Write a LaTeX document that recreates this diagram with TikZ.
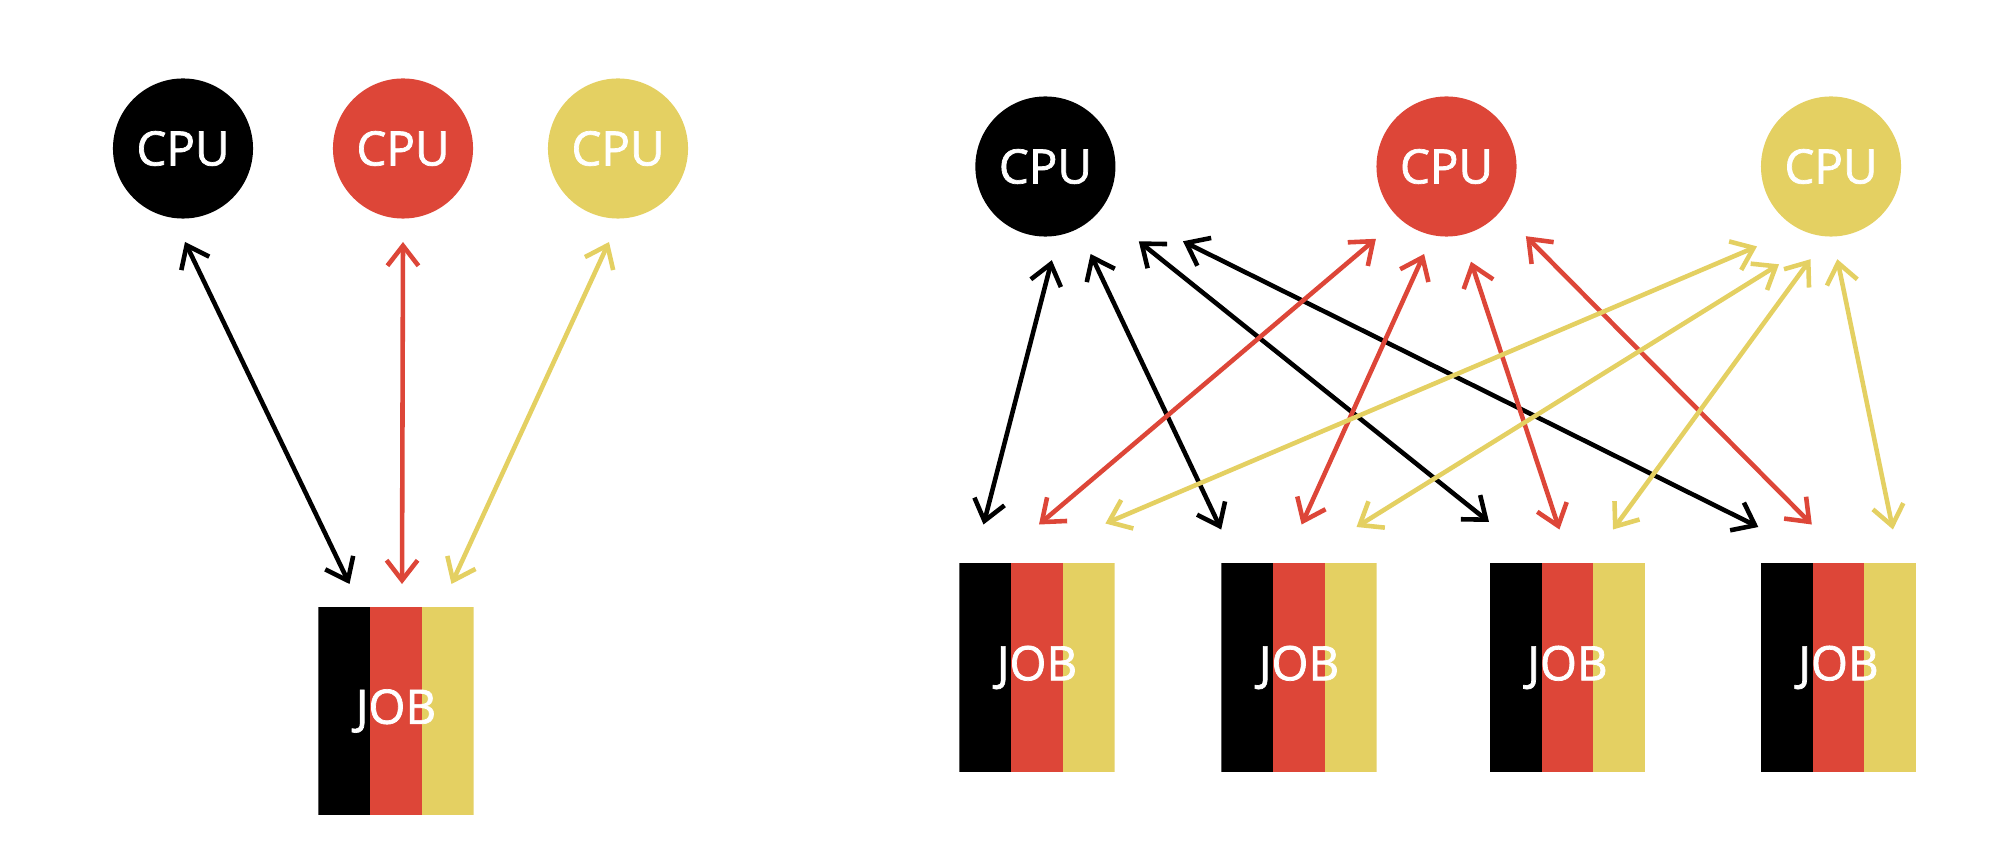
\documentclass[tikz,border=0pt]{standalone}
\usepackage{fontspec}
\setmainfont{Open Sans}
\newfontfamily\boxfont{Open Sans}[BoldFont={Open Sans},BoldFeatures={FakeBold=1.5}]
\usetikzlibrary{arrows.meta}
\definecolor{cpured}{HTML}{DD4638}
\definecolor{cpuyellow}{HTML}{E4D062}
\tikzset{
cpu/.style={circle,fill=#1,minimum size=1.4cm,inner sep=0pt,text=white,font=\boxfont\bfseries\fontsize{13.5}{16}\selectfont},
job/.style={rectangle,minimum width=1.55cm,minimum height=2.08cm,inner sep=0pt,text=white,font=\boxfont\bfseries\fontsize{13.5}{16}\selectfont,
path picture={
\fill[black] (path picture bounding box.south west) rectangle ++(0.517cm,2.08cm);
\fill[cpured] ([xshift=0.517cm]path picture bounding box.south west) rectangle ++(0.517cm,2.08cm);
\fill[cpuyellow] ([xshift=1.034cm]path picture bounding box.south west) rectangle (path picture bounding box.north east);
}},
link/.style={draw=#1,line width=1.3pt,{Straight Barb[length=2mm,width=3.1mm,line join=miter]}-{Straight Barb[length=2mm,width=3.1mm,line join=miter]}}
}
\begin{document}
\begin{tikzpicture}[x=0.01cm,y=-0.01cm]
\useasboundingbox (0,0) rectangle (2000,852);
% one job, one cpu per colour
\node[cpu=black] (cpuA) at (183,148.5) {CPU};
\node[cpu=cpured] (cpuB) at (403,148.5) {CPU};
\node[cpu=cpuyellow] (cpuC) at (618,148.5) {CPU};
\node[job] (job) at (396,711) {JOB};
\draw[link=black] ([shift={(2,93.5)}]cpuA.center) -- ([shift={(-46.5,-127)}]job.center);
\draw[link=cpured] ([shift={(0,93.5)}]cpuB.center) -- ([shift={(6,-127)}]job.center);
\draw[link=cpuyellow] ([shift={(-9,93.5)}]cpuC.center) -- ([shift={(55.5,-127)}]job.center);
% four jobs sharing the three cpus
\node[cpu=black] (cpuD) at (1045.4,166.5) {CPU};
\node[cpu=cpured] (cpuE) at (1446.5,166.5) {CPU};
\node[cpu=cpuyellow] (cpuF) at (1831,166.5) {CPU};
\foreach \n/\x in {1/1037,2/1299,3/1567.5,4/1838.5}
\node[job] (job\n) at (\x,667.5) {JOB};
\foreach \c/\col/\dx/\dy/\j/\ex/\ey in {
D/black/6.4/93.7/1/-53.5/-143, D/black/45.2/87.5/2/-77.8/-138, D/black/93.4/74.8/3/-78.5/-145.5, D/black/137.6/74.8/4/-80.2/-140.5,
E/cpured/-70.6/72.3/1/2/-143, E/cpured/-22.4/87.5/2/2.6/-143, E/cpured/24.5/95.2/3/-8.1/-138, E/cpured/79.4/69.7/4/-26.7/-143,
F/cpuyellow/-74/79.9/1/68.4/-144, F/cpuyellow/-52/97.8/2/57.5/-140.5, F/cpuyellow/-20.5/92.7/3/45.5/-138, F/cpuyellow/6.3/92.7/4/54.4/-138}
\draw[link=\col] ([shift={(\dx,\dy)}]cpu\c.center) -- ([shift={(\ex,\ey)}]job\j.center);
\end{tikzpicture}
\end{document}
